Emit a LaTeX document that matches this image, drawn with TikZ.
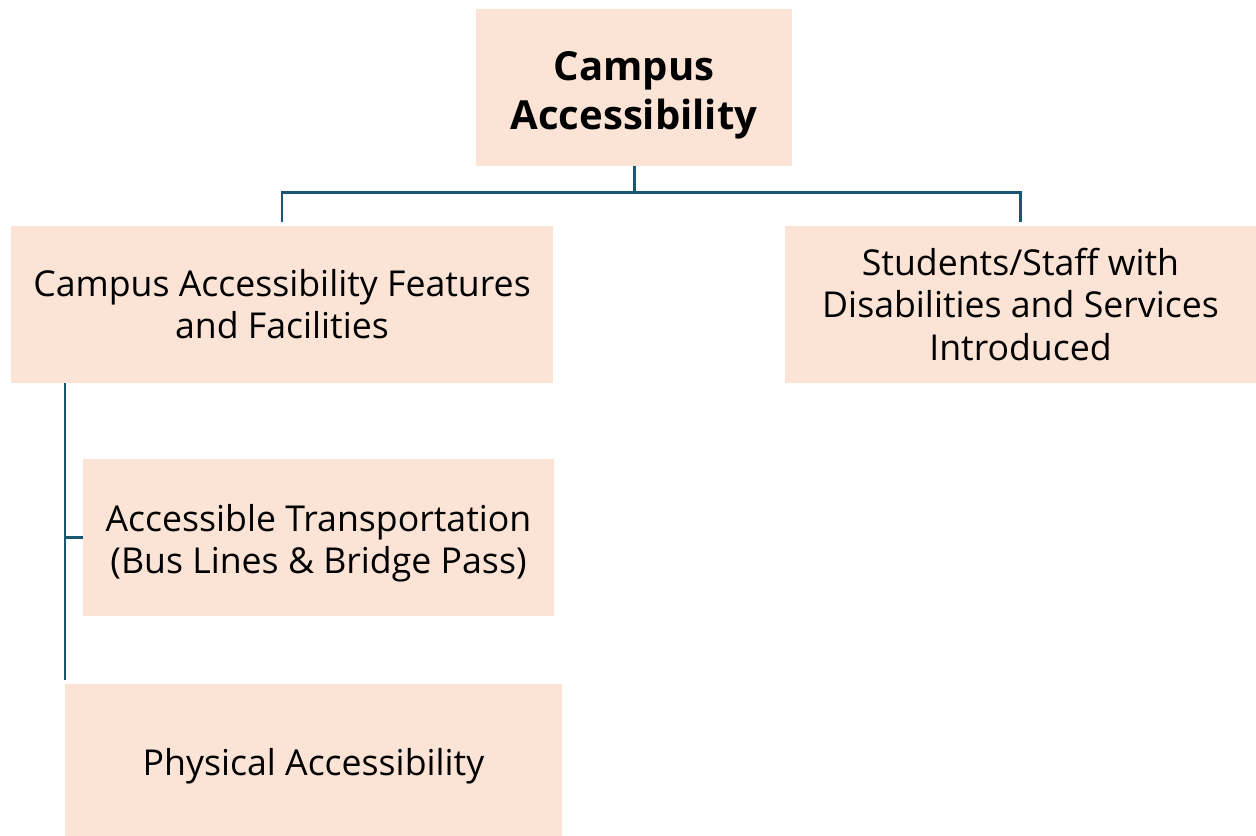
\documentclass[tikz,border=0pt]{standalone}
\usepackage{fontspec}
\setmainfont{Open Sans}
\usetikzlibrary{positioning}
\definecolor{boxfill}{HTML}{FBE3D6}
\definecolor{linkcol}{HTML}{1A5872}
\newcommand{\lift}[1]{\rule{0pt}{#1}}
\tikzset{
  topic/.style={fill=boxfill, inner sep=0pt, align=center,
    font=\fontsize{20.3}{24}\selectfont},
  link/.style={draw=linkcol, line width=1.7pt}
}
\begin{document}
\begin{tikzpicture}[x=0.02cm, y=-0.02cm]
  \useasboundingbox (0,0) rectangle (1256,835);
  % boxes
  \node[topic, minimum width=6.32cm, minimum height=3.14cm,
        font=\fontsize{22.8}{27.5}\selectfont\bfseries] (root) at (634,87.5) {\lift{25.5pt}Campus\\Accessibility};
  \node[topic, minimum width=10.84cm, minimum height=3.14cm] (feat) at (282,304.5) {Campus Accessibility Features\\and Facilities};
  \node[topic, minimum width=9.42cm, minimum height=3.14cm] (staff) at (1020.5,304.5) {Students/Staff with\\Disabilities and Services\\Introduced};
  \node[topic, minimum width=9.42cm, minimum height=3.14cm] (trans) at (318.5,537.5) {\lift{22pt}Accessible Transportation\\(Bus Lines \& Bridge Pass)};
  \node[topic, minimum width=9.94cm, minimum height=3.06cm] (phys) at (313.5,760.5) {\lift{22pt}Physical Accessibility};
  % connectors
  \draw[link, shorten >=0.08cm] (root.south) -- ++(0,26) -| (feat.north);
  \draw[link, shorten >=0.08cm] (root.south) -- ++(0,26) -| (staff.north);
  \coordinate (spinetop) at (65,383);
  \coordinate (spinebot) at (65,680);
  \draw[link] (spinetop) -- (spinebot);
  \draw[link] (spinetop |- trans.west) -- (trans.west);
\end{tikzpicture}
\end{document}
